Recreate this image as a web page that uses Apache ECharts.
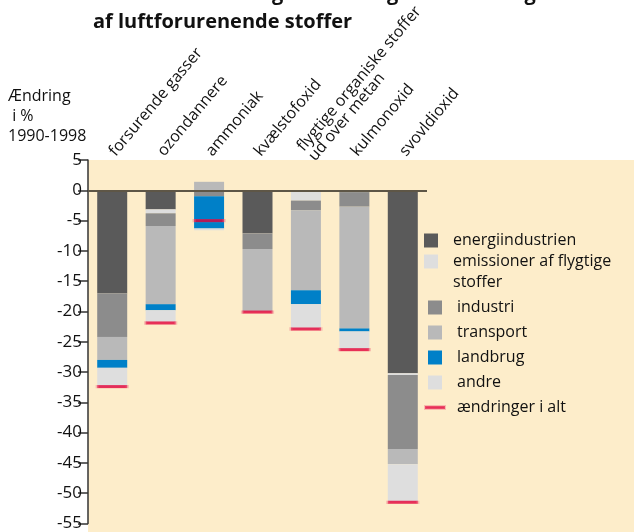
<!DOCTYPE html>
<html>
<head>
<meta charset="utf-8">
<script src="https://cdn.jsdelivr.net/npm/echarts@6/dist/echarts.min.js"></script>
<style>
  html, body { margin: 0; padding: 0; background: #fff; }
  #chart { width: 634px; height: 532px; }
</style>
</head>
<body>
<div id="chart"></div>
<script>
// kategorier og sektorbidrag (ændring i % 1990-1998)
const categories = ['forsurende gasser', 'ozondannere', 'ammoniak', 'kvælstofoxid', 'flygtige organiske stoffer\nud over metan', 'kulmonoxid', 'svovldioxid']
const energiindustrien = [-17.0, -3.15, 0, -7.1, 0, -0.3, -30.2]
const emissioner = [0, -0.65, 0, 0, -1.7, 0, -0.3]
const industri = [-7.2, -2.1, -1.0, -2.6, -1.6, -2.4, -12.2]
const transport = [-3.8, -12.9, 1.4, -10.3, -13.2, -20.1, -2.5]
const landbrug = [-1.3, -1.0, -5.3, 0, -2.3, -0.5, 0]
const andre = [-3.2, -2.0, -0.3, 0, -4.1, -2.9, -6.2]
const iAlt = [-32.4, -21.9, -5.0, -20.1, -22.9, -26.3, -51.5]
const yTicks = { min: -55, max: 5, interval: 5 }

const font = 'Open Sans'
const myChart = echarts.init(document.querySelector('#chart'))

function bar(name, data, color, extra) {
  return Object.assign({
    name,
    type: 'bar',
    stack: 'sum',
    barWidth: 30,
    data,
    itemStyle: { color },
  }, extra || {})
}

const squareIcon = 'path://M0,0h14v14h-14z'
const legendText = { fontSize: 16, color: '#111', lineHeight: 21, padding: [0, 0, 0, 7] }

const option = {
  animation: false,
  textStyle: { fontFamily: font },
  graphic: [
    // beige baggrund
    { type: 'rect', left: 88, top: 160, shape: { width: 546, height: 372 }, style: { fill: '#fdedca' }, z: -10 },
    {
      type: 'text', left: 93, top: -20,
      style: {
        text: 'Sektorernes bidrag til ændringer i udledningen\naf luftforurenende stoffer',
        font: 'bold 20px "Open Sans"', fill: '#111', lineHeight: 28,
      },
    },
    {
      type: 'text', left: 8, top: 86,
      style: { text: 'Ændring\n i %\n1990-1998', font: '16px "Open Sans"', fill: '#111', lineHeight: 20 },
    },
    // anden linje af legendeteksten
    { type: 'text', left: 453, top: 274, style: { text: 'stoffer', font: '16px "Open Sans"', fill: '#111' } },
  ],
  grid: { left: 88, right: 207, top: 160, bottom: 6 },
  legend: [
    {
      data: [{ name: 'energiindustrien', icon: squareIcon }],
      orient: 'vertical', left: 419, top: 225, itemWidth: 20, itemHeight: 14,
      textStyle: legendText,
      selectedMode: false,
    },
    {
      data: [{ name: 'emissioner af flygtige stoffer', icon: squareIcon }],
      orient: 'vertical', left: 419, top: 246, itemWidth: 20, itemHeight: 14,
      formatter: () => 'emissioner af flygtige',
      textStyle: legendText,
      selectedMode: false,
    },
    {
      data: [
        { name: 'industri', icon: squareIcon },
        { name: 'transport', icon: squareIcon },
        { name: 'landbrug', icon: squareIcon },
        { name: 'andre', icon: squareIcon },
        { name: 'ændringer i alt', icon: 'path://M0,0h20v3h-20z' },
      ],
      orient: 'vertical', left: 419, top: 292, itemWidth: 20, itemHeight: 14, itemGap: 4,
      textStyle: legendText,
      selectedMode: false,
    },
  ],
  xAxis: {
    type: 'category',
    position: 'top',
    data: categories,
    axisLine: { show: false, onZero: false },
    axisTick: { show: false },
    axisLabel: { rotate: -50, fontSize: 16, color: '#111', margin: 6, lineHeight: 15 },
  },
  yAxis: {
    type: 'value',
    min: yTicks.min,
    max: yTicks.max,
    interval: yTicks.interval,
    axisLine: { show: true, lineStyle: { color: '#333', width: 1.5 } },
    axisTick: { show: true, length: 10, lineStyle: { color: '#333', width: 1.5 } },
    axisLabel: { fontSize: 17, color: '#111', margin: 6 },
    splitLine: { show: false },
  },
  series: [
    bar('energiindustrien', energiindustrien, '#5a5a5a', {
      markLine: {
        silent: true,
        symbol: 'none',
        label: { show: false },
        lineStyle: { color: '#5e5646', width: 2, type: 'solid' },
        data: [{ yAxis: 0 }],
        z: 10,
      },
    }),
    bar('emissioner af flygtige stoffer', emissioner, '#dedede'),
    bar('industri', industri, '#8c8c8c'),
    bar('transport', transport, '#b9b9b9'),
    bar('landbrug', landbrug, '#0080c8'),
    bar('andre', andre, '#dedede'),
    {
      name: 'ændringer i alt',
      type: 'scatter',
      symbol: 'rect',
      symbolSize: [30, 3],
      data: iAlt,
      z: 5,
      itemStyle: { color: '#e2003a', borderColor: 'rgba(240,110,130,0.5)', borderWidth: 1 },
    },
  ],
}
myChart.setOption(option)
</script>
</body>
</html>
